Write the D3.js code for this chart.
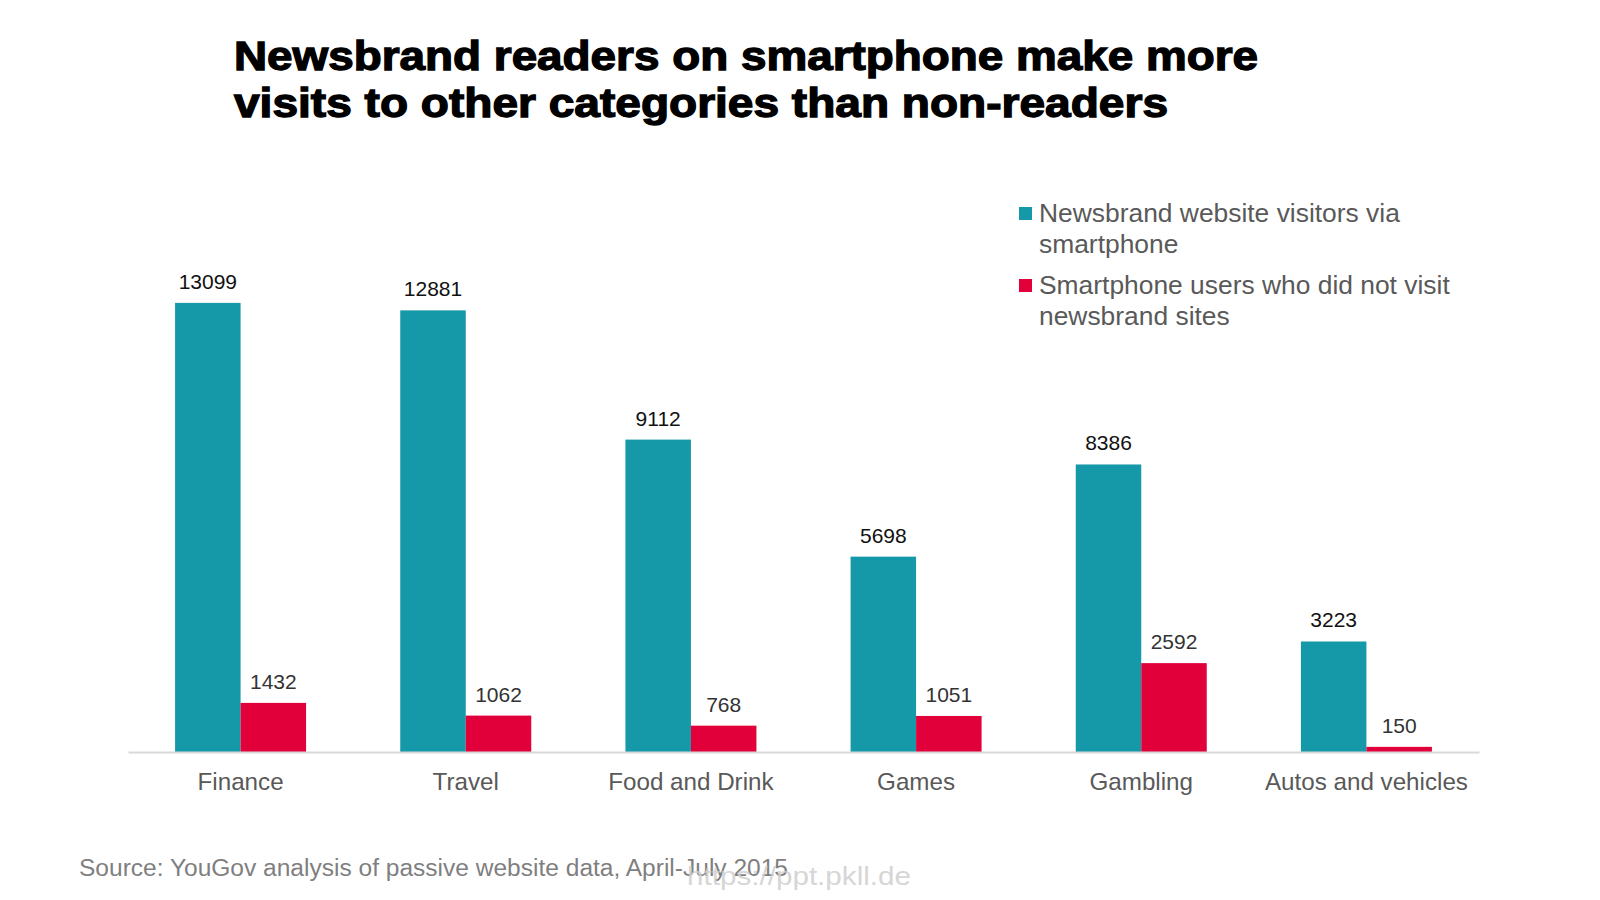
<!DOCTYPE html>
<html lang="en">
<head>
<meta charset="UTF-8">
<title>Newsbrand readers on smartphone</title>
<style>
    body { margin: 0; background: #fff; }
    svg { display: block; font-family: 'Liberation Sans', Arial, sans-serif; }
</style>
</head>
<body>
<svg width="1600" height="900"></svg>
<script src="https://d3js.org/d3.v7.min.js"></script>
<script>
// chart data
const categories = ['Finance', 'Travel', 'Food and Drink', 'Games', 'Gambling', 'Autos and vehicles'];
const readers = [13099, 12881, 9112, 5698, 8386, 3223];
const nonReaders = [1432, 1062, 768, 1051, 2592, 150];
const seriesNames = [
    ['Newsbrand website visitors via', 'smartphone'],
    ['Smartphone users who did not visit', 'newsbrand sites']
];
const colors = ['#1598a7', '#e1003a'];

const svg = d3.select('svg');

// title
const title = svg.append('g').attr('font-weight', 'bold').attr('fill', '#000')
    .attr('stroke', '#000').attr('stroke-width', 1.3).attr('font-size', 40);
title.append('text').attr('x', 234).attr('y', 70)
    .attr('textLength', 1024).attr('lengthAdjust', 'spacingAndGlyphs')
    .text('Newsbrand readers on smartphone make more');
title.append('text').attr('x', 234).attr('y', 117)
    .attr('textLength', 934).attr('lengthAdjust', 'spacingAndGlyphs')
    .text('visits to other categories than non-readers');

// scales
const x = d3.scaleBand().domain(categories).range([128, 1479]).padding(0);
const y = d3.scaleLinear().domain([0, 14000]).range([752, 272]);
const barW = 65.5;

const data = categories.map((c, i) => ({ cat: c, vals: [readers[i], nonReaders[i]] }));

const groups = svg.append('g').selectAll('g').data(data).join('g')
    .attr('transform', d => `translate(${x(d.cat) + x.bandwidth() / 2},0)`);

groups.selectAll('rect').data(d => d.vals).join('rect')
    .attr('x', (d, i) => i === 0 ? -barW : 0)
    .attr('width', barW)
    .attr('y', d => y(d))
    .attr('height', d => y(0) - y(d))
    .attr('fill', (d, i) => colors[i]);

groups.selectAll('text').data(d => d.vals).join('text')
    .attr('x', (d, i) => i === 0 ? -barW / 2 : barW / 2)
    .attr('y', d => y(d) - 14)
    .attr('text-anchor', 'middle')
    .attr('font-size', 21)
    .attr('fill', (d, i) => i === 0 ? '#111' : '#333')
    .text(d => d);

// x axis
const axis = svg.append('g').attr('transform', `translate(0,${y(0)})`)
    .call(d3.axisBottom(x).tickSize(0).tickPadding(21));
axis.select('.domain').attr('stroke', '#d9d9d9').attr('stroke-width', 2);
axis.selectAll('text').attr('font-size', 24.2).attr('fill', '#595959')
    .attr('font-family', "'Liberation Sans', Arial, sans-serif");

// legend
const legend = svg.append('g').attr('font-size', 26.4).attr('fill', '#595959');
seriesNames.forEach((lines, i) => {
    const top = 222 + i * 72;
    legend.append('rect').attr('x', 1019).attr('y', top - 15)
        .attr('width', 13).attr('height', 13).attr('fill', colors[i]);
    lines.forEach((t, j) => {
        legend.append('text').attr('x', 1039).attr('y', top + j * 31).text(t);
    });
});

// source and watermark
svg.append('text').attr('x', 79).attr('y', 876)
    .attr('font-size', 23).attr('fill', '#7f7f7f')
    .attr('textLength', 709).attr('lengthAdjust', 'spacingAndGlyphs')
    .text('Source: YouGov analysis of passive website data, April-July 2015');
svg.append('text').attr('x', 687).attr('y', 885)
    .attr('font-size', 26).attr('fill', '#cfcfcf')
    .attr('opacity', 0.85)
    .attr('textLength', 224).attr('lengthAdjust', 'spacingAndGlyphs')
    .text('https://ppt.pkll.de');
</script>
</body>
</html>
